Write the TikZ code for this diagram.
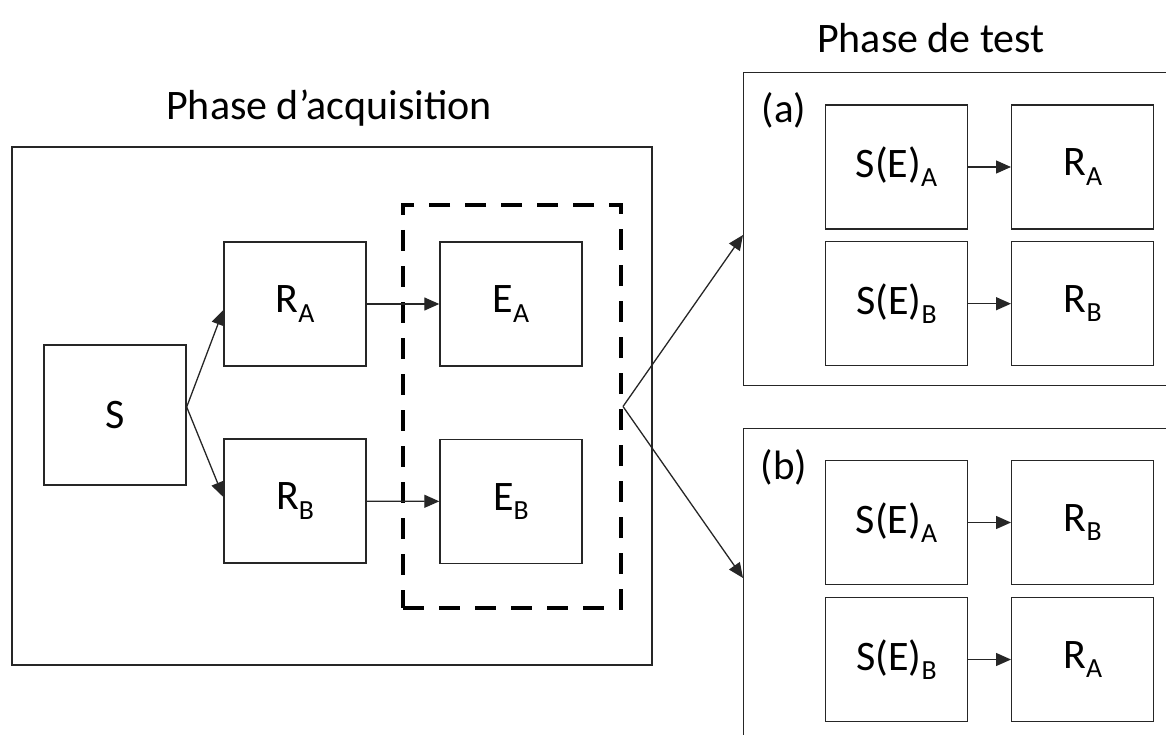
\documentclass[tikz,border=0pt]{standalone}
\usepackage{fontspec}
\usepackage{graphicx}
\setmainfont{Carlito}
\usetikzlibrary{arrows.meta}
\newcommand\lowsub[1]{\raisebox{-0.22em}{\scalebox{0.66}{#1}}}
\begin{document}
\begin{tikzpicture}[x=1pt,y=-1pt,
  box/.style={draw=black!85,line width=1.4pt,rectangle,inner sep=0pt,minimum width=142pt,minimum height=124pt,font=\fontsize{42}{44}\selectfont},
  frame/.style={draw=black!85,line width=1.4pt,rectangle,inner sep=0pt},
  grpbox/.style={draw=black,line width=4pt,dash pattern=on 21pt off 15pt,rectangle,inner sep=0pt},
  conn/.style={draw=black!85,line width=1.3pt,-{Triangle[length=15pt,width=13pt]}},
  title/.style={font=\fontsize{42}{44}\selectfont},
  lab/.style={font=\fontsize{41}{44}\selectfont}]
\useasboundingbox (0,0) rectangle (1166,735);
% frames
\node[frame,minimum width=640pt,minimum height=518pt] (acq) at (332,406) {};
\node[frame,minimum width=440pt,minimum height=313pt,anchor=north west] (ta) at (743,72) {};
\node[frame,minimum width=440pt,minimum height=330pt,anchor=north west] (tb) at (743,428) {};
\node[title] (t1) at (329,108) {Phase d’acquisition};
\node[title] (t2) at (931,38) {Phase de test};
% acquisition
\node[box,minimum height=140pt] (S) at (115,415) {S};
\node[box] (RA) at (295,304) {R\lowsub{A}};
\node[box] (RB) at (295,501) {R\lowsub{B}};
\node[box] (EA) at (511,304) {E\lowsub{A}};
\node[box] (EB) at (511,501.5) {E\lowsub{B}};
\node[grpbox,minimum width=218pt,minimum height=403pt] (grp) at (512,406.5) {};
\coordinate (sf) at ([yshift=8pt]S.east);
\draw[conn] (sf) -- ([yshift=-6pt]RA.west);
\draw[conn] (sf) -- ([yshift=4pt]RB.west);
\draw[conn] (RA) -- (EA);
\draw[conn] (RB) -- (EB);
\coordinate (gf) at (grp.east);
\draw[conn] (gf) -- (ta.west |- 0,235);
\draw[conn] (gf) -- (tb.west |- 0,578);
% test (a)
\node[lab,anchor=center] (la) at (784,110) {(a)};
\node[box] (aSA) at (896.5,167) {S(E)\lowsub{A}};
\node[box] (aRA) at (1082.7,167) {R\lowsub{A}};
\node[box] (aSB) at (896.5,303.7) {S(E)\lowsub{B}};
\node[box] (aRB) at (1082.7,303.7) {R\lowsub{B}};
\draw[conn] (aSA) -- (aRA);
\draw[conn] (aSB) -- (aRB);
% test (b)
\node[lab,anchor=center] (lb) at (784,467) {(b)};
\node[box] (bSA) at (896.5,522.5) {S(E)\lowsub{A}};
\node[box] (bRB) at (1082.7,522.5) {R\lowsub{B}};
\node[box] (bSB) at (896.5,659.5) {S(E)\lowsub{B}};
\node[box] (bRA) at (1082.7,659.5) {R\lowsub{A}};
\draw[conn] (bSA) -- (bRB);
\draw[conn] (bSB) -- (bRA);
\end{tikzpicture}
\end{document}
